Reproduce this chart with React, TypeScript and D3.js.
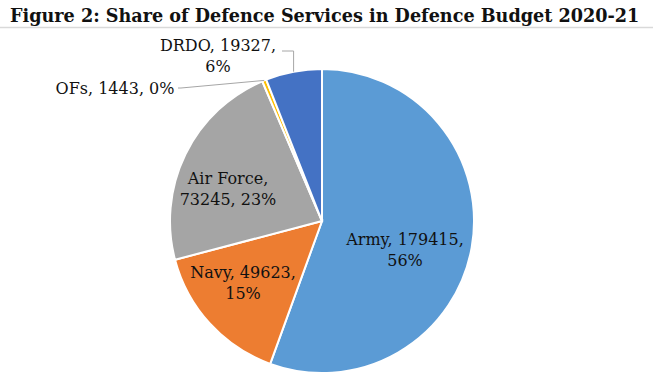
import * as d3 from "d3";
import { useEffect, useRef } from "react";

const categories = ["Army", "Navy", "Air Force", "OFs", "DRDO"];
const values = [179415, 49623, 73245, 1443, 19327];
const percents = ["56%", "15%", "23%", "0%", "6%"];
const colors = ["#5b9bd5", "#ed7d31", "#a5a5a5", "#ffc000", "#4472c4"];

// label lines per slice, as Excel wrapped them
const labelLines = [
  [`${categories[0]}, ${values[0]},`, percents[0]],
  [`${categories[1]}, ${values[1]},`, percents[1]],
  [`${categories[2]},`, `${values[2]}, ${percents[2]}`],
  [`${categories[3]}, ${values[3]}, ${percents[3]}`],
  [`${categories[4]}, ${values[4]},`, percents[4]],
];

const W = 653;
const H = 384;

const App = () => {
  const ref = useRef(null);

  useEffect(() => {
    const svg = d3.select(ref.current);
    svg.selectAll("*").remove();

    const cx = 322;
    const cy = 221;
    const r = 152;
    const font = "'DejaVu Serif', Georgia, serif";

    const title = svg.append("text")
      .attr("x", 10)
      .attr("y", 22)
      .style("font-family", font)
      .style("font-weight", "bold")
      .style("font-size", "18px")
      .style("fill", "#111")
      .text("Figure 2: Share of Defence Services in Defence Budget 2020-21");
    // shrink the title so it fits the 630px it takes in the reference
    const tw = title.node().getComputedTextLength();
    if (tw > 630) title.style("font-size", `${(18 * 630) / tw}px`);

    svg.append("line")
      .attr("x1", 0).attr("x2", W)
      .attr("y1", 27.5).attr("y2", 27.5)
      .style("stroke", "#d9d9d9")
      .style("stroke-width", 1.5);

    const pie = d3.pie().sort(null).value((d) => d)(values);
    const arc = d3.arc().innerRadius(0).outerRadius(r);

    const g = svg.append("g").attr("transform", `translate(${cx},${cy})`);
    g.selectAll("path")
      .data(pie)
      .enter()
      .append("path")
      .attr("d", arc)
      .style("fill", (d, i) => colors[i])
      .style("stroke", "#fff")
      .style("stroke-width", 2);

    // label centers relative to pie center (Excel best fit)
    const labelPos = [[83, 29], [-79, 62], [-94, -32], [-207, -133], [-104, -165]];
    const lineGap = 21;

    labelLines.forEach((lines, i) => {
      const [lx, ly] = labelPos[i];
      const t = g.append("text")
        .attr("text-anchor", "middle")
        .style("font-family", font)
        .style("font-size", "16px")
        .style("fill", "#111");
      lines.forEach((s, j) => {
        t.append("tspan")
          .attr("x", lx)
          .attr("y", ly + (j - (lines.length - 1) / 2) * lineGap)
          .attr("dy", "0.35em")
          .text(s);
      });
    });

    // leader lines for outside labels
    const outer = d3.arc().innerRadius(r).outerRadius(r);
    const [ox, oy] = outer.centroid(pie[3]);
    g.append("path")
      .attr("d", `M${-144},${-133}L${-141},${-133}L${ox},${oy}`)
      .style("fill", "none")
      .style("stroke", "#a6a6a6");
    const [dx, dy] = outer.centroid(pie[4]);
    g.append("path")
      .attr("d", `M${-40},${-170}L${dx},${-170}L${dx},${dy}`)
      .style("fill", "none")
      .style("stroke", "#a6a6a6");
  }, []);

  return (
    <svg
      ref={ref}
      width={W}
      height={H}
      style={{ position: "absolute", left: 0, top: 0, background: "#fff" }}
    />
  );
};

export default App;
